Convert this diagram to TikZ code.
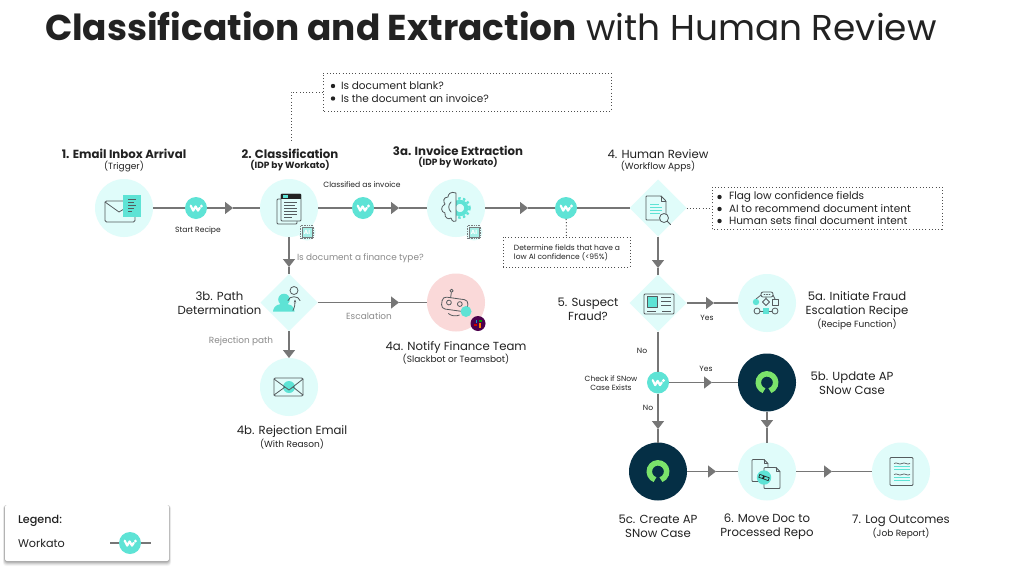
\documentclass[tikz,border=0pt]{standalone}
\usepackage{fontspec}
\setmainfont{Poppins}
\newfontfamily\medfont{Poppins Medium}
\usetikzlibrary{arrows.meta,shapes.geometric,calc}
\definecolor{pale}{HTML}{E0FCFA}
\definecolor{teal1}{HTML}{5EE3D5}
\definecolor{navy}{HTML}{052F45}
\definecolor{linegray}{HTML}{767676}
\definecolor{icongray}{HTML}{555B5E}
\definecolor{softgray}{HTML}{8A8A8A}
\definecolor{pinkish}{HTML}{FAD9D9}
\definecolor{snowgreen}{HTML}{7BE36B}
\definecolor{inkk}{HTML}{222222}
\newcommand{\fs}[1]{\fontsize{#1}{#1}\selectfont}
\tikzset{
  x=1pt,y=-1pt,
  every node/.style={inner sep=0pt,outer sep=0pt,text=inkk},
  round/.style={circle,minimum size=58pt,fill=pale},
  roundpink/.style={circle,minimum size=58pt,fill=pinkish},
  rounddark/.style={circle,minimum size=58pt,fill=navy},
  dia/.style={diamond,minimum width=57pt,minimum height=57pt,aspect=1,fill=pale},
  wnode/.style={circle,minimum size=22pt,fill=teal1},
  conn/.style={draw=linegray,line width=1.2pt},
  tip/.style={conn,-{Triangle[length=8pt,width=12pt]}},
  dots/.style={draw=inkk!80,line width=1pt,dash pattern=on 1pt off 2.2pt},
  ico/.style={draw=icongray,line width=0.8pt,line join=round,line cap=round},
  lab/.style={align=center,font=\fontsize{11.7}{14.5}\selectfont},
  labhead/.style={align=center,font=\fs{11.75}\bfseries},
  subl/.style={align=center,font=\fs{9}},
  subb/.style={align=center,font=\fs{9}\bfseries},
  small/.style={align=center,font=\fs{7.6}},
  graylab/.style={align=center,font=\fs{8.9},text=softgray},
  notetxt/.style={anchor=west,font=\fs{10.5}},
}
\newcommand{\wlogo}[1]{\begin{scope}[shift={(#1)}]
  \draw[white,line width=2.2pt,line cap=round,line join=round] (-5.3,-2.3)--(-2.8,2.6)--(-0.4,-1.6)--(2,2.6)--(3.8,-0.2);
  \fill[white] (5.4,-2) circle (1.6);
\end{scope}}
\newcommand{\aibadge}[2]{\begin{scope}[shift={(#1)}]
  \fill[pale] (0,0) circle (8.5);
  \fill[teal1!55] (-5,-5) rectangle (5,5);
  \draw[icongray!80,line width=0.5pt] (-5,-5) rectangle (5,5);
  \draw[icongray!80,line width=0.9pt,dash pattern=on 0.8pt off 0.9pt] (-6.2,-6.2) rectangle (6.2,6.2);
  \node[name=#2,font=\fs{6}\bfseries,text=white] at (0,0) {AI};
\end{scope}}
\begin{document}
\begin{tikzpicture}
\useasboundingbox (0,0) rectangle (1024,570);
\fill[white] (0,0) rectangle (1024,570);

% title
\node[name=title,anchor=base west,font=\fs{35.9}] at (45,40.5) {\textbf{Classification and Extraction} with Human Review};

% main nodes
\node[round,name=c1] at (124,208) {};
\node[round,name=c2] at (289,208) {};
\node[round,name=c3] at (456,208) {};
\node[dia,name=d4] at (658,208) {};
\node[dia,name=d3] at (289,302.5) {};
\node[roundpink,name=c4a] at (456,302.5) {};
\node[round,name=c4b] at (289,387) {};
\node[dia,name=d5] at (658,303) {};
\node[round,name=c5a] at (767,303) {};
\node[rounddark,name=c5b] at (767,382.5) {};
\node[rounddark,name=c5c] at (658,471.5) {};
\node[round,name=c6] at (767,471.5) {};
\node[round,name=c7] at (901,471.5) {};
\node[wnode,name=w1] at (196,208) {};
\node[wnode,name=w2] at (363,208) {};
\node[wnode,name=w3] at (566,208) {};
\node[wnode,name=w4] at (658,382.5) {};

% note boxes
\node[draw=none,name=n1,minimum width=288pt,minimum height=38pt] at (467,92) {};
\node[draw=none,name=n2,minimum width=127pt,minimum height=30pt] at (566.5,252) {};
\node[draw=none,name=n3,minimum width=230pt,minimum height=42pt] at (827,208) {};
\draw[dots] (n1.south west) rectangle (n1.north east);
\draw[dots] (n2.south west) rectangle (n2.north east);
\draw[dots] (n3.south west) rectangle (n3.north east);
\coordinate (bend1) at (291,92);
\coordinate (end1) at (291,142);
\draw[dots] (n1.west) -- (bend1) -- (end1);
\draw[dots] (w3) -- (n2.north);
\draw[dots] (d4.east) -- (n3.west);

% arrow positions
\coordinate (t1) at (233,208);
\coordinate (t2) at (399,208);
\coordinate (t3) at (528,208);
\coordinate (t4) at (658,268);
\coordinate (t5) at (289,267);
\coordinate (t6) at (399,302.5);
\coordinate (t7) at (289,358);
\coordinate (t8) at (714,303);
\coordinate (t9) at (712,382.5);
\coordinate (t10) at (658,429);
\coordinate (t11) at (767,428);
\coordinate (t12) at (716,471.5);
\coordinate (t13) at (832,471.5);

% connectors
\draw[conn] (c1) -- (w1);
\draw[tip] (w1) -- (t1);
\draw[conn] (t1) -- (c2);
\draw[conn] (c2) -- (w2);
\draw[tip] (w2) -- (t2);
\draw[conn] (t2) -- (c3);
\draw[tip] (c3) -- (t3);
\draw[conn] (t3) -- (w3);
\draw[conn] (w3) -- (d4);
\draw[tip] (d4) -- (t4);
\draw[conn] (t4) -- (d5);
\draw[tip] (c2) -- (t5);
\draw[conn] (t5) -- (d3);
\draw[tip] (d3) -- (t6);
\draw[conn] (t6) -- (c4a);
\draw[tip] (d3) -- (t7);
\draw[conn] (t7) -- (c4b);
\draw[tip] (d5) -- (t8);
\draw[conn] (t8) -- (c5a);
\draw[conn] (d5) -- (w4);
\draw[tip] (w4) -- (t9);
\draw[conn] (t9) -- (c5b);
\draw[tip] (w4) -- (t10);
\draw[conn] (t10) -- (c5c);
\draw[tip] (c5b) -- (t11);
\draw[conn] (t11) -- (c6);
\draw[tip] (c5c) -- (t12);
\draw[conn] (t12) -- (c6);
\draw[tip] (c6) -- (t13);
\draw[conn] (t13) -- (c7);

\wlogo{w1}\wlogo{w2}\wlogo{w3}\wlogo{w4}

% --- icons ---
% email
\begin{scope}[shift={(c1)}]
  \draw[ico,rounded corners=1.5pt] (11,9) -- (11,14) -- (-19,14) -- (-19,-7) -- (0,-7);
  \draw[ico] (-19,-6) -- (-5,4) -- (0,1);
  \fill[teal1] (-1,-13) rectangle (17,9);
  \draw[icongray,line width=0.8pt] (4,-9)--(12,-9) (4,-6)--(10,-6) (4,-3)--(12,-3) (4,0)--(10,0) (4,3)--(8,3);
\end{scope}
% classification
\begin{scope}[shift={(c2)}]
  \draw[ico,rounded corners=1pt] (-8,-9) -- (-12,-9) -- (-12,16) -- (8,16) -- (8,13);
  \draw[ico,fill=pale,rounded corners=1pt] (-8,-14) rectangle (12,13);
  \fill[inkk] (-8,-14) rectangle (12,-9.5);
  \fill[teal1] (-6,-13) rectangle (-1,-10.5);
  \draw[icongray,line width=0.8pt] (-5,-6)--(8,-6) (-5,-3)--(6,-3) (-5,0)--(8,0) (-5,3)--(8,3) (-5,6)--(8,6) (-5,9)--(3,9);
\end{scope}
\aibadge{$(c2)+(18,24)$}{ai1}
% extraction
\begin{scope}[shift={(c3)}]
  \begin{scope}
    \clip (0,-20) rectangle (20,20);
    \draw[teal1,line width=2.4pt,dash pattern=on 2.4pt off 2.4pt] (4,0) circle (9.6);
    \draw[teal1,line width=4pt] (4,0) circle (6.2);
  \end{scope}
  \draw[ico] (0,-15) .. controls (-5,-17) and (-8,-14) .. (-8,-11) .. controls (-13,-11) and (-13,-6) .. (-11,-4) .. controls (-16,-1) and (-15,4) .. (-11,5) .. controls (-12,10) and (-7,12) .. (-5,10) .. controls (-4,14) and (-1,14) .. (0,13) -- cycle;
  \draw[ico] (-5,-6) .. controls (-8,-3) and (-8,1) .. (-5,4);
\end{scope}
\aibadge{$(c3)+(18,24)$}{ai2}
% human review doc
\begin{scope}[shift={(d4)}]
  \draw[ico,fill=pale,rounded corners=0.8pt] (-12,-12) -- (3,-12) -- (8,-7) -- (8,12) -- (-12,12) -- cycle;
  \draw[ico] (3,-12) -- (3,-7) -- (8,-7);
  \draw[teal1,line width=0.9pt] (-8,-4)--(1,-4) (-8,-1)--(4,-1) (-8,2)--(4,2) (-8,5)--(2,5);
  \draw[ico,fill=pale] (6,10) circle (4.5);
  \draw[ico] (9.2,13.2) -- (12.5,16.5);
\end{scope}
% path determination
\begin{scope}[shift={(d3)}]
  \fill[teal1] (-5,-3) circle (5.8);
  \fill[teal1] (-16,9) .. controls (-15,2) and (-10,1.5) .. (-5,1.5) .. controls (0,1.5) and (5,2) .. (5.5,9) -- cycle;
  \draw[ico] (5,-12) circle (4);
  \draw[ico] (-1,-2) .. controls (0,-7) and (10,-7) .. (11,-2);
  \draw[ico,-{Stealth[length=3pt]}] (4,8) .. controls (6,4) and (6,1) .. (6,-3);
\end{scope}
% robot
\begin{scope}[shift={(c4a)}]
  \begin{scope}[rotate=-8]
    \draw[ico,fill=pinkish,rounded corners=4pt] (-14,-4) rectangle (12,8);
    \draw[ico] (-6,-9) -- (-6,-4);
    \draw[ico] (-6,-11) circle (1.6);
    \draw[ico] (-7,1) circle (2.4);
    \draw[ico] (4,1) circle (2.4);
    \draw[ico] (-6,12) .. controls (-3,14) and (2,14) .. (5,12);
  \end{scope}
  \fill[teal1] (10,9) circle (5.5);
  \fill[violet!60!black] (22,21) circle (7.5);
  \fill[red!80!black] (18,21.8) rectangle (21.3,23.5);
  \fill[cyan!70!blue] (19.5,17) rectangle (21.3,20.3);
  \fill[green!60!black] (22.7,17.5) rectangle (26,19.3);
  \fill[orange] (22.7,20.7) rectangle (24.5,25);
\end{scope}
% rejection email
\begin{scope}[shift={(c4b)}]
  \fill[teal1] (0,0) ellipse (6 and 6);
  \draw[ico,rounded corners=1.2pt] (-15,-9) rectangle (14,9);
  \draw[ico] (-15,-8) -- (0,3) -- (14,-8) (-15,8) -- (-4,0) (14,8) -- (4,0);
\end{scope}
% id card
\begin{scope}[shift={(d5)}]
  \draw[ico,rounded corners=1pt] (-14,-9) rectangle (16,11);
  \fill[teal1] (-10.5,-6) rectangle (-1,4);
  \draw[ico] (-11,-6.5) rectangle (-0.5,4);
  \draw[icongray,line width=0.8pt] (3,-6)--(13,-6) (3,-2)--(13,-2) (3,2)--(13,2) (4,8.5)--(13,8.5) (-11,8.5)--(-2,8.5);
\end{scope}
% flow
\begin{scope}[shift={(c5a)}]
  \draw[ico,rounded corners=2pt] (-6,-6) -- (-6,-11) -- (6,-11) -- (6,-6) -- cycle;
  \draw[ico,dash pattern=on 1pt off 1.5pt] (-3,-8.5) -- (3,-8.5);
  \draw[ico] (-6,-8) -- (-11,-4) (6,-8) -- (8,-4) (-1,-6) -- (-1,-5);
  \fill[teal1] (-11,-1) circle (3.2);
  \draw[ico] (-1,-4.5) -- (2.5,-1) -- (-1,2.5) -- (-4.5,-1) -- cycle;
  \draw[ico] (5.2,-4) rectangle (11,2);
  \draw[ico] (-10,8) circle (3);
  \fill[teal1] (-4,5) rectangle (2,11);
  \draw[ico] (8,8) circle (3);
  \draw[ico] (-7,8) -- (-4,8) (2,8) -- (5,8);
\end{scope}
% servicenow
\draw[snowgreen,line width=5.5pt] ($(c5b)+(-3,8.2)$) arc[start angle=110,end angle=430,radius=8.7];
\draw[snowgreen,line width=5.5pt] ($(c5c)+(-3,8.2)$) arc[start angle=110,end angle=430,radius=8.7];
% move doc
\begin{scope}[shift={(c6)}]
  \draw[ico,fill=pale,rounded corners=0.8pt] (-15,-12) -- (-3,-12) -- (1,-8) -- (1,10) -- (-15,10) -- cycle;
  \draw[ico] (-3,-12) -- (-3,-8) -- (1,-8);
  \draw[ico,fill=pale,rounded corners=0.8pt] (-3,-4) -- (9,-4) -- (13,0) -- (13,17) -- (-3,17) -- cycle;
  \draw[ico] (9,-4) -- (9,0) -- (13,0);
  \fill[teal1] (-3,6) circle (7.2);
  \draw[inkk,line width=0.7pt,rotate around={-20:(-3,6)}] (-8,4.5) rectangle (-3,7.5) (-4,4.5) rectangle (2,7.5);
\end{scope}
% job report
\begin{scope}[shift={(c7)}]
  \draw[ico,rounded corners=1pt] (-11,-14) rectangle (12,14);
  \draw[icongray,line width=0.7pt] (-7,-8) .. controls (-4,-10) and (-2,-6) .. (1,-8) .. controls (4,-10) and (6,-6) .. (9,-8);
  \draw[teal1,line width=0.8pt] (-7,-5) -- (9,-5) (-7,-2) -- (9,-2);
  \draw[icongray,line width=0.7pt] (-7,3) .. controls (-4,1) and (-2,5) .. (1,3) .. controls (4,1) and (6,5) .. (9,3);
  \draw[teal1,line width=0.8pt] (-7,6) -- (9,6) (-7,9) -- (9,9);
\end{scope}

% --- labels ---
\node[labhead,name=l1] at (124,153.5) {1. Email Inbox Arrival};
\node[subl,name=l1s] at (124,166.5) {(Trigger)};
\node[labhead,name=l2] at (290,153.5) {2. Classification};
\node[subb,name=l2s] at (290,166) {(IDP by Workato)};
\node[small,name=e1] at (362,185) {Classified as invoice};
\node[small,name=e2] at (198,231) {Start Recipe};
\node[labhead,name=l3] at (458,151) {3a. Invoice Extraction};
\node[subb,name=l3s] at (458,163) {(IDP by Workato)};
\node[lab,name=l4] at (658,154) {4. Human Review};
\node[subl,name=l4s] at (658,166.5) {(Workflow Apps)};
\node[name=n2t,align=left,font=\fontsize{7.5}{9.2}\selectfont] at (567,252.5) {Determine fields that have a\\low AI confidence (<95\%)};
\node[graylab,name=e3,anchor=west] at (297,258) {Is document a finance type?};
\node[lab,name=l3b] at (219.5,303) {3b. Path\\Determination};
\node[graylab,name=e4] at (241,341) {Rejection path};
\node[graylab,name=e5] at (369,316) {Escalation};
\node[lab,name=l4a] at (456,348) {4a. Notify Finance Team};
\node[subl,name=l4as] at (456,359) {(Slackbot or Teamsbot)};
\node[lab,name=l4b] at (292,432) {4b. Rejection Email};
\node[subl,name=l4bs] at (292,444) {(With Reason)};
\node[lab,name=l5] at (588,309.5) {5. Suspect\\Fraud?};
\node[small,name=e6] at (707,318) {Yes};
\node[small,name=e7] at (642,351) {No};
\node[name=e8,align=center,font=\fontsize{7.5}{9.2}\selectfont] at (611,383.5) {Check if SNow\\Case Exists};
\node[small,name=e9] at (706,369) {Yes};
\node[small,name=e10] at (648,408) {No};
\node[lab,name=l5a] at (857,304.5) {5a. Initiate Fraud\\Escalation Recipe};
\node[subl,name=l5as] at (857,324) {(Recipe Function)};
\node[lab,name=l5b] at (852,383) {5b. Update AP\\SNow Case};
\node[lab,name=l5c] at (658,526.5) {5c. Create AP\\SNow Case};
\node[lab,name=l6] at (767,526.5) {6. Move Doc to\\Processed Repo};
\node[lab,name=l7] at (901,521) {7. Log Outcomes};
\node[subl,name=l7s] at (901,533) {(Job Report)};

% note text
\fill[inkk] (333,86) circle (2.2) (333,98.5) circle (2.2);
\node[notetxt,name=n1a] at (341,86) {Is document blank?};
\node[notetxt,name=n1b] at (341,98.5) {Is the document an invoice?};
\fill[inkk] (719.5,197) circle (2.2) (719.5,209) circle (2.2) (719.5,221) circle (2.2);
\node[notetxt,name=n3a] at (729,197) {Flag low confidence fields};
\node[notetxt,name=n3b] at (729,209) {AI to recommend document intent};
\node[notetxt,name=n3c] at (729,221) {Human sets final document intent};

% legend
\foreach \k/\o in {5/0.04,4/0.06,3/0.08,2/0.1,1/0.14}{
  \fill[black,opacity=\o,rounded corners=3pt] (5-\k*0.4,505) rectangle (169+\k*0.4,561+\k);
}
\fill[white,rounded corners=2pt] (5,505) rectangle (169,561);
\node[anchor=west,font=\medfont\fs{11.2},name=lg1] at (18,521) {Legend:};
\node[anchor=west,font=\fs{11.2},name=lg2] at (18,543.5) {Workato};
\node[wnode,name=w5] at (130,543) {};
\coordinate (lgl) at (110,543);
\coordinate (lgr) at (151,543);
\draw[conn] (lgl) -- (w5);
\draw[conn] (w5) -- (lgr);
\wlogo{w5}
\end{tikzpicture}
\end{document}
